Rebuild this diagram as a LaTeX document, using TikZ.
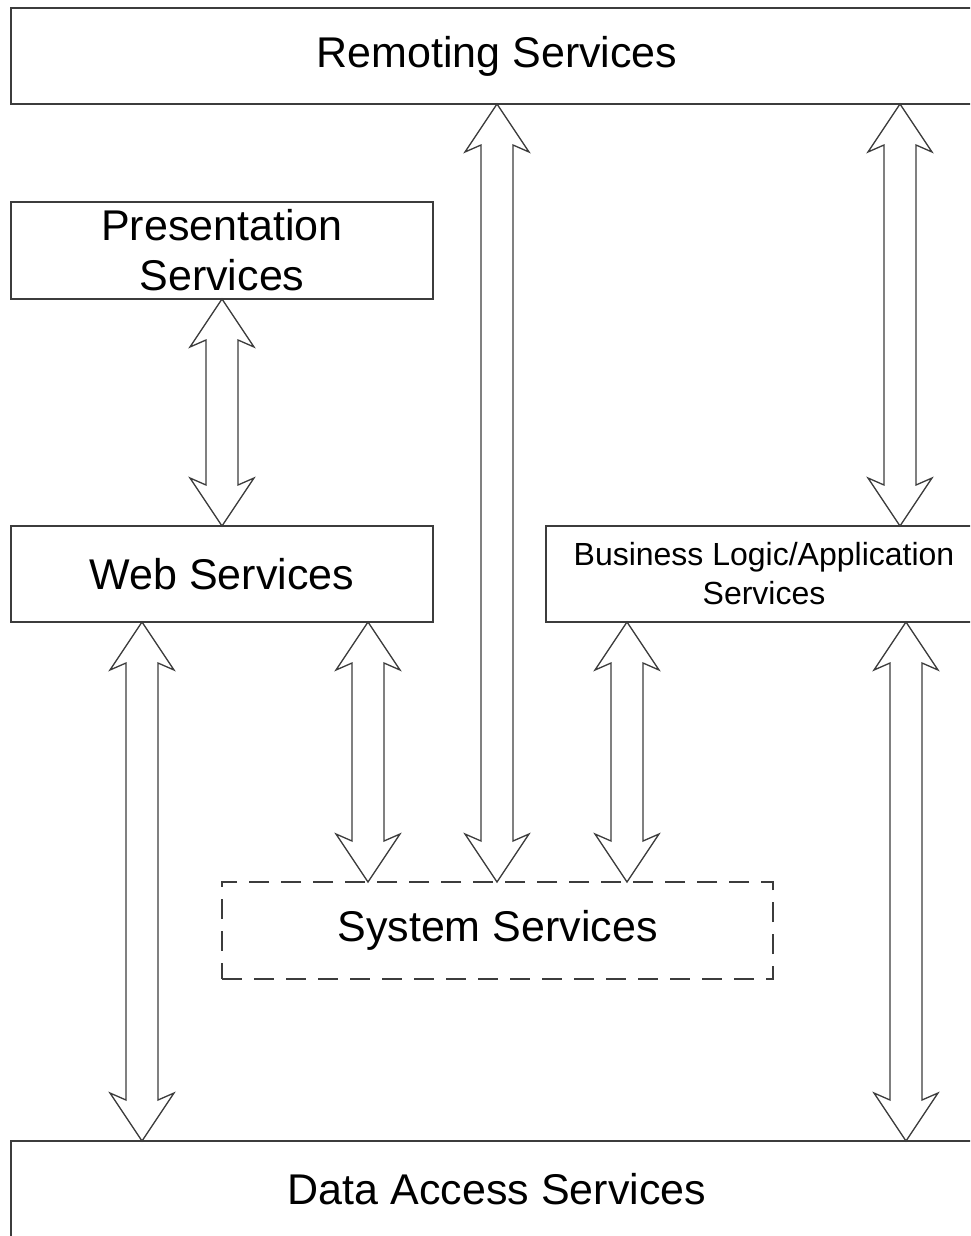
\documentclass[tikz,border=0pt]{standalone}
\usepackage{fontspec}
\setmainfont{Liberation Sans}
\usetikzlibrary{calc}
\definecolor{edge}{HTML}{3C3C3C}
\begin{document}
\begin{tikzpicture}[x=1pt,y=-1pt,
  box/.style={rectangle, draw=edge, line width=1.4pt, fill=white,
    inner sep=0pt, outer sep=0pt, align=center,
    font=\fontsize{43}{50}\selectfont},
  smalltext/.style={font=\fontsize{32}{39}\selectfont},
  dashedbox/.style={dash pattern=on 20pt off 12pt},
  dblarrow/.style={draw=edge, line width=1.3pt, fill=white, line join=miter,
    to path={let \p1=(\tikztostart), \p2=(\tikztotarget) in
      -- (\x1-32pt,\y1-48pt) -- (\x1-16pt,\y1-41pt)
      -- (\x2-16pt,\y2+41pt) -- (\x2-32pt,\y2+48pt)
      -- (\x2,\y2)
      -- (\x2+32pt,\y2+48pt) -- (\x2+16pt,\y2+41pt)
      -- (\x1+16pt,\y1-41pt) -- (\x1+32pt,\y1-48pt) -- cycle}}
]
\useasboundingbox (0,0) rectangle (970,1236);
\clip (0,0) rectangle (970,1236);
\fill[white] (0,0) rectangle (970,1236);

% layers
\node[box, minimum width=972pt, minimum height=96pt] (rem) at (497,56) {Remoting Services};
\node[box, minimum width=422pt, minimum height=97pt] (pres) at (222,250.5) {Presentation\\Services};
\node[box, minimum width=422pt, minimum height=96pt] (web) at (222,574) {Web Services};
\node[box, smalltext, minimum width=436pt, minimum height=96pt] (bus) at (764,574) {Business Logic/Application\\Services};
\node[box, dashedbox, minimum width=551pt, minimum height=97pt] (sys) at (497.5,930.5) {System Services};
\node[box, minimum width=972pt, minimum height=96pt] (data) at (497,1189) {Data Access Services};

% vertical lanes of the connectors
\coordinate (lanePres) at (222,0);
\coordinate (laneWebData) at (142,0);
\coordinate (laneWebSys) at (368,0);
\coordinate (laneRemSys) at (497,0);
\coordinate (laneBusSys) at (627,0);
\coordinate (laneRemBus) at (900,0);
\coordinate (laneBusData) at (906,0);

% two-way connectors
\draw[dblarrow] (rem.south -| laneRemSys) to (sys.north -| laneRemSys);
\draw[dblarrow] (rem.south -| laneRemBus) to (bus.north -| laneRemBus);
\draw[dblarrow] (pres.south -| lanePres) to (web.north -| lanePres);
\draw[dblarrow] (web.south -| laneWebData) to (data.north -| laneWebData);
\draw[dblarrow] (web.south -| laneWebSys) to (sys.north -| laneWebSys);
\draw[dblarrow] (bus.south -| laneBusSys) to (sys.north -| laneBusSys);
\draw[dblarrow] (bus.south -| laneBusData) to (data.north -| laneBusData);
\end{tikzpicture}
\end{document}
